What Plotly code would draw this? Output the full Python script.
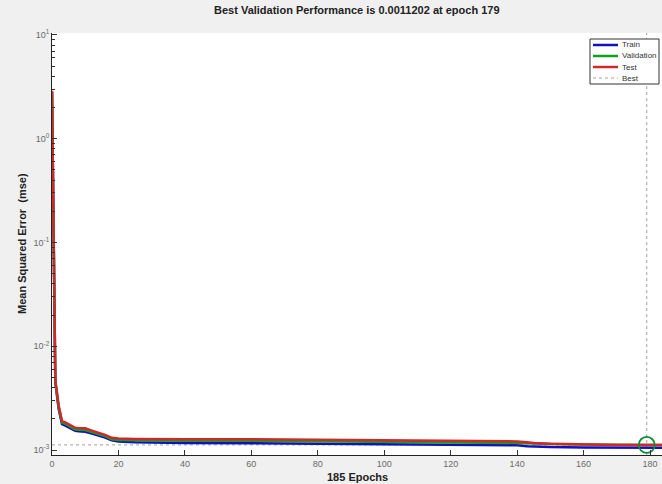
"""
Training performance plot (MSE per epoch) in the style of MATLAB plotperform.
"""

import plotly.graph_objects as go

epochs = [0, 1, 2, 3, 4, 5, 6, 7, 8, 10, 12, 14, 16, 18, 20, 25, 30, 40, 60,
          78, 80, 100, 120, 140, 143, 145, 150, 160, 170, 179, 185]

train_mse = [2.80, 0.0045, 0.0025, 0.00178, 0.00172, 0.00166, 0.00158, 0.00153, 0.00152,
             0.00150, 0.00144, 0.00139, 0.00132, 0.00124, 0.00121, 0.00119, 0.00118, 0.00117,
             0.00116, 0.00115, 0.00114, 0.00113, 0.00112, 0.00111, 0.00109, 0.00108,
             0.00107, 0.00106, 0.00105, 0.00105, 0.00105]

valid_mse = [2.85, 0.0046, 0.0026, 0.00184, 0.00179, 0.00172, 0.00164, 0.00158, 0.00157,
             0.00156, 0.00149, 0.00143, 0.00136, 0.00127, 0.00125, 0.00124, 0.00123, 0.00123,
             0.00123, 0.00122, 0.00120, 0.00119, 0.00118, 0.00117, 0.00116, 0.00115,
             0.00114, 0.00113, 0.00112, 0.0011202, 0.00112]

test_mse = [2.90, 0.0047, 0.0027, 0.00190, 0.00185, 0.00178, 0.00170, 0.00164, 0.00163,
            0.00162, 0.00154, 0.00147, 0.00140, 0.00131, 0.00129, 0.00128, 0.00127, 0.00127,
            0.00127, 0.00126, 0.00124, 0.00123, 0.00122, 0.00121, 0.00119, 0.00117,
            0.00115, 0.00113, 0.00112, 0.00112, 0.00112]

best_epoch = 179
best_perf = 0.0011202
n_epochs = 185

series_names = ["Train", "Validation", "Test"]
series_colors = ["#1010c0", "#10a020", "#d02828"]
best_color = "#a0a0a0"

ytick_vals = [1e-3, 1e-2, 1e-1, 1e0, 1e1]
ytick_text = ["10<sup>-3</sup>", "10<sup>-2</sup>", "10<sup>-1</sup>", "10<sup>0</sup>", "10<sup>1</sup>"]
xtick_vals = [0, 20, 40, 60, 80, 100, 120, 140, 160, 180]

FONT = "Liberation Sans, Arial, sans-serif"
TICK_CLR = "#6a6a6a"
LABEL_CLR = "#222222"

# plot area in pixels (figure 662x484)
L, R, T, B = 52, 662, 33, 455
W_PX, H_PX = 662, 484


def px_x(px):
    return (px - L) / (R - L)


def px_y(py):
    return (B - py) / (B - T)


def add_legend(fig: go.Figure):
    """MATLAB 스타일의 작은 범례 박스를 직접 그림"""
    fig.add_shape(type="rect", xref="paper", yref="paper",
                  x0=px_x(590), x1=px_x(659), y0=px_y(84), y1=px_y(39),
                  fillcolor="white", line=dict(color="#333333", width=1), layer="above")
    rows = [45, 56, 67, 78]
    entries = list(zip(series_names, series_colors)) + [("Best", best_color)]
    for (name, clr), py in zip(entries, rows):
        is_best = name == "Best"
        fig.add_shape(type="line", xref="paper", yref="paper",
                      x0=px_x(593), x1=px_x(618), y0=px_y(py), y1=px_y(py),
                      line=dict(color=clr, width=1 if is_best else 2.5,
                                dash="dot" if is_best else "solid"),
                      layer="above")
        fig.add_annotation(text=name, xref="paper", yref="paper",
                           x=px_x(620), y=px_y(py), xanchor="left", yanchor="middle",
                           showarrow=False, font=dict(size=8, color="#333333"))


def build_figure() -> go.Figure:
    fig = go.Figure()

    # best 수평선 / 수직선
    fig.add_trace(go.Scatter(x=[0, n_epochs], y=[best_perf, best_perf], mode="lines", name="Best",
                             line=dict(color=best_color, width=1, dash="dot")))
    fig.add_shape(type="line", xref="x", yref="paper", x0=best_epoch, x1=best_epoch, y0=0, y1=1,
                  line=dict(color=best_color, width=1, dash="dot"), layer="below")

    # 곡선: train -> validation -> test (test 가 위에 그려짐)
    for name, clr, vals in zip(series_names, series_colors, [train_mse, valid_mse, test_mse]):
        fig.add_trace(go.Scatter(x=epochs, y=vals, mode="lines", name=name,
                                 line=dict(color=clr, width=2.5)))

    # best 지점 원
    fig.add_trace(go.Scatter(x=[best_epoch], y=[best_perf], mode="markers",
                             marker=dict(symbol="circle-open", size=16,
                                         line=dict(color="#108a30", width=1.8), color="#108a30")))

    fig.update_layout(
        width=W_PX,
        height=H_PX,
        paper_bgcolor="#f0f0f0",
        plot_bgcolor="white",
        margin=dict(l=L, r=W_PX - R, t=T, b=H_PX - B, autoexpand=False),
        font=dict(family=FONT, size=9, color=TICK_CLR),
        showlegend=False,
    )

    # 제목 및 축 제목
    fig.add_annotation(text="<b>Best Validation Performance is 0.0011202 at epoch 179</b>",
                       xref="paper", yref="paper", x=px_x(357), y=px_y(10),
                       xanchor="center", yanchor="middle", showarrow=False,
                       font=dict(size=11, color=LABEL_CLR))
    fig.add_annotation(text="<b>185 Epochs</b>", xref="paper", yref="paper",
                       x=px_x(357), y=px_y(477), xanchor="center", yanchor="middle",
                       showarrow=False, font=dict(size=11, color=LABEL_CLR))
    fig.add_annotation(text="<b>Mean Squared Error  (mse)</b>", xref="paper", yref="paper",
                       x=px_x(22), y=px_y(244), xanchor="center", yanchor="middle",
                       textangle=-90, showarrow=False, font=dict(size=11, color=LABEL_CLR))

    add_legend(fig)

    fig.update_xaxes(
        range=[0, 183.6],
        tickvals=xtick_vals,
        ticks="inside", ticklen=5, tickcolor="#333333",
        showline=True, linecolor=LABEL_CLR, linewidth=1,
        showgrid=False, zeroline=False, automargin=False,
        tickfont=dict(size=9, color=TICK_CLR),
    )

    minor_vals = [k * 10.0 ** d for d in range(-3, 1) for k in range(2, 10)]
    fig.update_yaxes(
        type="log",
        range=[-3.048, 1.019],
        tickvals=ytick_vals,
        ticktext=ytick_text,
        ticks="inside", ticklen=5, tickcolor="#333333",
        minor=dict(ticks="inside", ticklen=3, tickcolor="#333333", tickvals=minor_vals, showgrid=False),
        showline=True, linecolor=LABEL_CLR, linewidth=1,
        showgrid=False, zeroline=False, automargin=False,
        tickfont=dict(size=9, color=TICK_CLR),
    )
    return fig


def main():
    fig = build_figure()
    # 브라우저 기본 body 여백 제거 (그림이 창 크기에 딱 맞도록), 모드바 숨김
    fig.write_html("out.html",
                   config={"displayModeBar": False},
                   post_script="document.body.style.margin='0';document.body.style.overflow='hidden';")


if __name__ == "__main__":
    main()
